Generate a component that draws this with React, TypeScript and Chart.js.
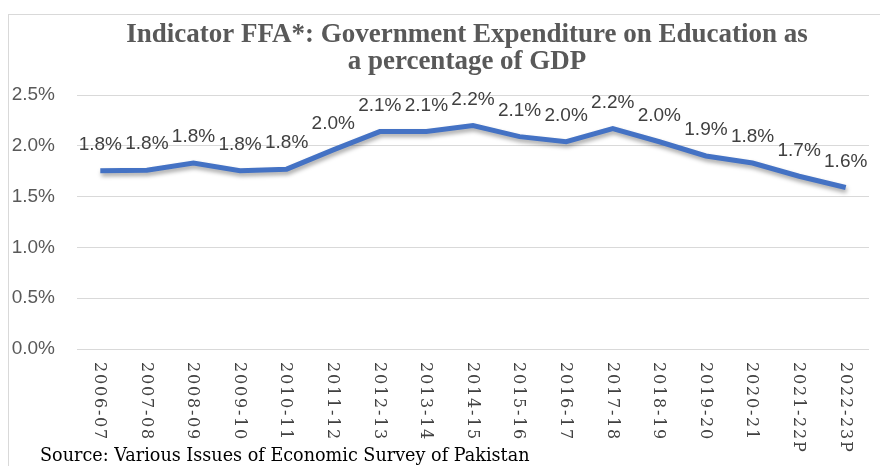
import React, { useEffect, useRef } from "react";
import { Chart, registerables } from "chart.js";

Chart.register(...registerables);

const categories = [
  "2006-07", "2007-08", "2008-09", "2009-10", "2010-11", "2011-12", "2012-13", "2013-14", "2014-15",
  "2015-16", "2016-17", "2017-18", "2018-19", "2019-20", "2020-21", "2021-22P", "2022-23P",
];
const expenditurePct = [1.755, 1.76, 1.83, 1.755, 1.77, 1.96, 2.14, 2.14, 2.2, 2.09, 2.04, 2.17, 2.04, 1.9, 1.83, 1.7, 1.59];
const dataLabels = ["1.8%", "1.8%", "1.8%", "1.8%", "1.8%", "2.0%", "2.1%", "2.1%", "2.2%", "2.1%", "2.0%", "2.2%", "2.0%", "1.9%", "1.8%", "1.7%", "1.6%"];
const titleLines = ["Indicator FFA*: Government Expenditure on Education as", "a percentage of GDP"];
const sourceText = "Source: Various Issues of Economic Survey of Pakistan";

const shadowPlugin = {
  id: "lineShadow",
  beforeDatasetDraw(chart: any) {
    const ctx = chart.ctx;
    ctx.save();
    ctx.shadowColor = "rgba(0,0,0,0.35)";
    ctx.shadowBlur = 4;
    ctx.shadowOffsetX = 1;
    ctx.shadowOffsetY = 3;
  },
  afterDatasetDraw(chart: any) {
    chart.ctx.restore();
  },
};

const labelsPlugin = {
  id: "customLabels",
  afterDraw(chart: any) {
    const ctx = chart.ctx;
    // title
    ctx.save();
    ctx.fillStyle = "#595959";
    ctx.font = "bold 27px 'Liberation Serif'";
    ctx.textAlign = "center";
    ctx.textBaseline = "middle";
    titleLines.forEach((t, i) => ctx.fillText(t, 467, 35 + i * 27));
    ctx.restore();
  },
  afterDatasetsDraw(chart: any) {
    const ctx = chart.ctx;
    const meta = chart.getDatasetMeta(0);
    ctx.save();
    ctx.fillStyle = "#404040";
    ctx.font = "19px 'Liberation Sans'";
    ctx.textAlign = "center";
    ctx.textBaseline = "middle";
    meta.data.forEach((pt: any, i: number) => {
      ctx.fillText(dataLabels[i], pt.x, pt.y - 26);
    });
    ctx.restore();

    // rotated x-axis labels (reading top to bottom)
    const xScale = chart.scales.x;
    ctx.save();
    ctx.fillStyle = "#404040";
    ctx.font = "16px 'DejaVu Serif'";
    (ctx as any).letterSpacing = "1.8px";
    ctx.textAlign = "left";
    ctx.textBaseline = "middle";
    categories.forEach((c, i) => {
      const x = xScale.getPixelForValue(i) - 1;
      ctx.save();
      ctx.translate(x, 362);
      ctx.rotate(Math.PI / 2);
      ctx.fillText(c, 0, 0);
      ctx.restore();
    });
    ctx.restore();
  },
};

export default function App() {
  const ref = useRef<HTMLCanvasElement>(null);
  useEffect(() => {
    if (!ref.current) return;
    const chart = new Chart(ref.current, {
      type: "line",
      data: {
        labels: categories,
        datasets: [
          {
            data: expenditurePct,
            borderColor: "#4472C4",
            borderWidth: 5,
            pointRadius: 0,
            tension: 0,
            fill: false,
          },
        ],
      },
      options: {
        responsive: false,
        animation: false,
        layout: { padding: { left: 0, right: 11, top: 95, bottom: 0 } },
        plugins: {
          legend: { display: false },
          tooltip: { enabled: false },
          title: { display: false },
        },
        scales: {
          x: {
            offset: true,
            grid: { display: false, drawTicks: false },
            border: { display: false },
            ticks: { display: false },
            afterFit(scale: any) {
              scale.height = 117;
            },
          },
          y: {
            min: 0,
            max: 2.5,
            grid: { color: "#d9d9d9", lineWidth: 1, drawTicks: false },
            border: { display: false },
            ticks: {
              stepSize: 0.5,
              padding: 22,
              color: "#595959",
              font: { family: "'Liberation Sans'", size: 19 },
              callback: (v: any) => Number(v).toFixed(1) + "%",
            },
            afterFit(scale: any) {
              scale.width = 77;
            },
          },
        },
      },
      plugins: [shadowPlugin, labelsPlugin],
    });
    return () => chart.destroy();
  }, []);

  return (
    <div style={{ position: "fixed", left: 0, top: 0, width: 880, height: 466, background: "#fff", overflow: "hidden" }}>
      <div
        style={{
          position: "absolute",
          left: 8,
          top: 14,
          width: 1000,
          height: 1000,
          borderLeft: "1px solid #d9d9d9",
          borderTop: "1px solid #d9d9d9",
        }}
      />
      <canvas ref={ref} width={880} height={466} style={{ position: "absolute", left: 0, top: 0, width: 880, height: 466 }} />
      <div
        style={{
          position: "absolute",
          left: 40,
          top: 443,
          fontFamily: "'DejaVu Serif'",
          fontSize: 17.6,
          lineHeight: "24px",
          color: "#000",
          whiteSpace: "nowrap",
        }}
      >
        {sourceText}
      </div>
    </div>
  );
}
